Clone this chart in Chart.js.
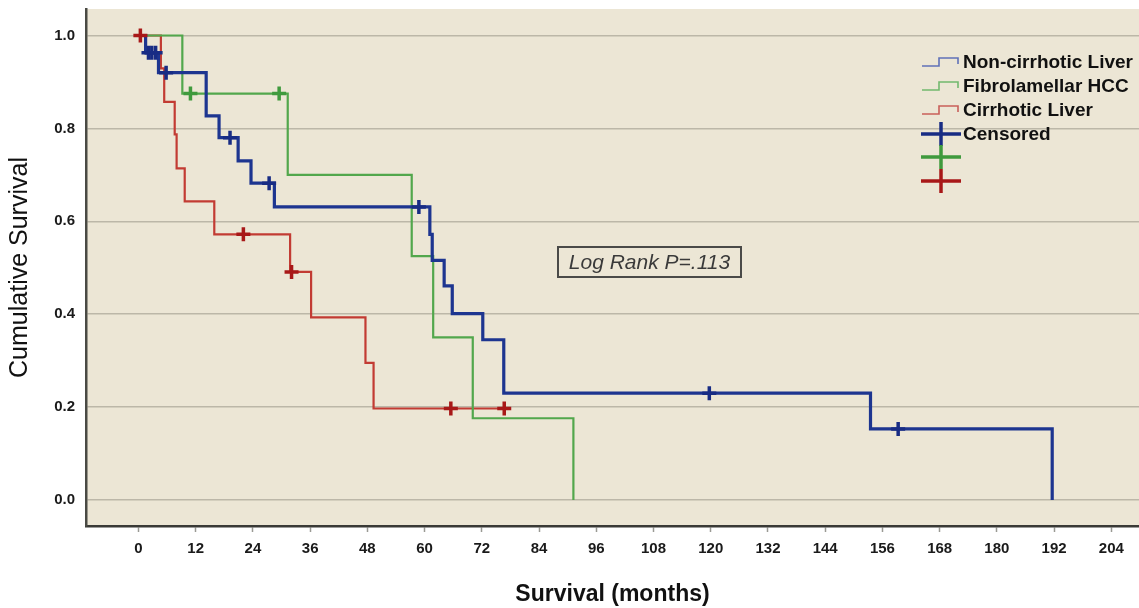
<!DOCTYPE html>
<html>
<head>
<meta charset="utf-8">
<script src="https://cdn.jsdelivr.net/npm/chart.js@4/dist/chart.umd.min.js"></script>
<style>
  body { margin: 0; background: #fff; }
  #wrap { position: relative; width: 1139px; height: 608px; }
  #legend { position: absolute; left: 0; top: 0; font-family: "Liberation Sans", Arial, sans-serif; }
  .row { position: absolute; left: 921px; height: 24px; display: flex; align-items: center; white-space: nowrap; }
  .row svg { width: 40px; flex: none; }
  .row span { margin-left: 2px; font-size: 19px; font-weight: bold; color: #111; }
  #logrank { position: absolute; left: 557px; top: 246px; width: 181px; height: 28px; border: 2px solid #4a4a48;
    font-family: "Liberation Sans", Arial, sans-serif; font-style: italic; font-size: 21px; color: #3a3a3a;
    line-height: 28px; text-align: center; }
</style>
</head>
<body>
<div id="wrap">
  <canvas id="kmChart" width="1139" height="608"></canvas>
  <div id="legend"></div>
  <div id="logrank">Log Rank P=.113</div>
</div>
<script>
'use strict';

// axis ticks
const xTicks = [0, 12, 24, 36, 48, 60, 72, 84, 96, 108, 120, 132, 144, 156, 168, 180, 192, 204];
const yTicks = [0, 0.2, 0.4, 0.6, 0.8, 1.0];

const groupNames = ['Non-cirrhotic Liver', 'Fibrolamellar HCC', 'Cirrhotic Liver'];
const censoredLabel = 'Censored';
const logRankText = 'Log Rank P=.113';

// Non-cirrhotic Liver
const nonCirrhoticTimes = [0, 1.5, 4.2, 14.2, 16.9, 20.9, 23.6, 28.5, 61.1, 61.6, 64.1, 65.8, 72.2, 76.6, 153.5, 191.6];
const nonCirrhoticSurvival = [1, 0.963, 0.920, 0.827, 0.780, 0.730, 0.682, 0.631, 0.572, 0.516, 0.461, 0.401, 0.345, 0.230, 0.153, 0];
const nonCirrhoticCensorTimes = [2.1, 2.8, 3.6, 5.8, 19.2, 27.4, 58.8, 119.7, 159.3];
const nonCirrhoticCensorSurvival = [0.963, 0.963, 0.963, 0.920, 0.780, 0.682, 0.631, 0.230, 0.153];

// Fibrolamellar HCC
const fibrolamellarTimes = [0, 9.2, 31.3, 57.3, 61.8, 70.1, 91.2];
const fibrolamellarSurvival = [1, 0.875, 0.700, 0.525, 0.350, 0.176, 0];
const fibrolamellarCensorTimes = [10.9, 29.5];
const fibrolamellarCensorSurvival = [0.875, 0.875];

// Cirrhotic Liver
const cirrhoticTimes = [0, 4.7, 5.4, 7.6, 8.0, 9.7, 15.9, 31.8, 36.2, 47.6, 49.3];
const cirrhoticSurvival = [1, 0.929, 0.857, 0.787, 0.714, 0.643, 0.572, 0.491, 0.393, 0.295, 0.197];
const cirrhoticCensorTimes = [0.4, 22.0, 32.1, 65.5, 76.7];
const cirrhoticCensorSurvival = [1, 0.572, 0.491, 0.197, 0.197];

const lineColors = ['#1d3590', '#52a74c', '#c23b33'];
const crossColors = ['#182c84', '#3f9a3d', '#a81818'];
const iconColors = ['#6072b8', '#72b96e', '#c9605a'];

function toPoints(xs, ys) {
  return xs.map(function(x, i) {
    return { x: x, y: ys[i] };
  });
}

// events and censored points together, so the curve runs on to the last censored case
function stepPoints(times, surv, cTimes, cSurv) {
  let pts = toPoints(times, surv).concat(toPoints(cTimes, cSurv));
  pts.sort(function(a, b) { return a.x - b.x; });
  return pts;
}

function stepDataset(label, pts, color, width) {
  return {
    type: 'line',
    label: label,
    data: pts,
    stepped: 'before',
    borderColor: color,
    borderWidth: width,
    pointRadius: 0,
    fill: false,
    order: 2
  };
}

function censorDataset(pts, color) {
  return {
    type: 'scatter',
    label: censoredLabel,
    data: pts,
    showLine: false,
    pointStyle: 'cross',
    pointRadius: 7,
    borderColor: color,
    backgroundColor: color,
    borderWidth: 3.5,
    order: 1
  };
}

let datasets = [
  stepDataset(groupNames[0], stepPoints(nonCirrhoticTimes, nonCirrhoticSurvival, nonCirrhoticCensorTimes, nonCirrhoticCensorSurvival), lineColors[0], 3.2),
  stepDataset(groupNames[1], stepPoints(fibrolamellarTimes, fibrolamellarSurvival, fibrolamellarCensorTimes, fibrolamellarCensorSurvival), lineColors[1], 2.2),
  stepDataset(groupNames[2], stepPoints(cirrhoticTimes, cirrhoticSurvival, cirrhoticCensorTimes, cirrhoticCensorSurvival), lineColors[2], 2.2),
  censorDataset(toPoints(nonCirrhoticCensorTimes, nonCirrhoticCensorSurvival), crossColors[0]),
  censorDataset(toPoints(fibrolamellarCensorTimes, fibrolamellarCensorSurvival), crossColors[1]),
  censorDataset(toPoints(cirrhoticCensorTimes, cirrhoticCensorSurvival), crossColors[2])
];

const plotBackground = {
  id: 'plotBackground',
  beforeDraw: function(chart) {
    let ctx = chart.ctx;
    let a = chart.chartArea;
    ctx.save();
    ctx.fillStyle = '#ece6d5';
    ctx.fillRect(a.left, a.top, a.right - a.left, a.bottom - a.top);
    ctx.restore();
  }
};

let tickFont = { family: '"Liberation Sans", Arial, sans-serif', size: 15, weight: 'bold' };

let kmChart = new Chart(document.getElementById('kmChart'), {
  data: { datasets: datasets },
  plugins: [plotBackground],
  options: {
    responsive: false,
    animation: false,
    layout: { autoPadding: false, padding: { top: 9, right: 0, bottom: 0, left: 0 } },
    plugins: {
      legend: { display: false },
      tooltip: { enabled: false }
    },
    scales: {
      x: {
        type: 'linear',
        min: -11,
        max: 209.8,
        afterBuildTicks: function(scale) {
          scale.ticks = xTicks.map(function(v) { return { value: v }; });
        },
        afterFit: function(scale) { scale.height = 82; },
        grid: { drawOnChartArea: false, drawTicks: true, tickLength: 6, tickColor: '#9a9a94', tickWidth: 1.5 },
        border: { color: '#3a3a36', width: 2.5 },
        ticks: { font: tickFont, color: '#1a1a1a', padding: 8, maxRotation: 0, autoSkip: false },
        title: {
          display: true,
          text: 'Survival (months)',
          color: '#111',
          font: { family: '"Liberation Sans", Arial, sans-serif', size: 23, weight: 'bold', lineHeight: 1 },
          padding: { top: 0, bottom: 2 }
        }
      },
      y: {
        type: 'linear',
        min: -0.056,
        max: 1.057,
        afterBuildTicks: function(scale) {
          scale.ticks = yTicks.map(function(v) { return { value: v }; });
        },
        afterFit: function(scale) {
          scale.width = 86;
          // tick labels sit well inside the range, no extra room needed above or below
          scale.paddingTop = 0;
          scale.paddingBottom = 0;
        },
        grid: { color: '#bcb7a8', lineWidth: 1.5, drawTicks: false },
        border: { color: '#4a4a44', width: 2.5 },
        ticks: {
          font: tickFont,
          color: '#1a1a1a',
          padding: 11,
          callback: function(v) { return Number(v).toFixed(1); }
        },
        title: {
          display: true,
          text: 'Cumulative Survival',
          color: '#111',
          font: { family: '"Liberation Sans", Arial, sans-serif', size: 25, weight: 'normal', lineHeight: 1 },
          padding: { top: 8, bottom: 0 }
        }
      }
    }
  }
});

// legend in the top right corner of the plot
function stepIcon(color) {
  return '<svg height="16" viewBox="0 0 40 16"><path d="M1,12 H18 V4 H37 V10" fill="none" stroke="' + color + '" stroke-width="1.6"/></svg>';
}

function crossIcon(color) {
  return '<svg height="26" viewBox="0 0 40 26"><path d="M0,13 H40 M20,1 V25" fill="none" stroke="' + color + '" stroke-width="3.5"/></svg>';
}

let legendRows = [
  { top: 50, icon: stepIcon(iconColors[0]), text: groupNames[0] },
  { top: 74, icon: stepIcon(iconColors[1]), text: groupNames[1] },
  { top: 98, icon: stepIcon(iconColors[2]), text: groupNames[2] },
  { top: 122, icon: crossIcon(crossColors[0]), text: censoredLabel },
  { top: 145, icon: crossIcon(crossColors[1]), text: '' },
  { top: 169, icon: crossIcon(crossColors[2]), text: '' }
];

let $legend = document.getElementById('legend');
for (let i = 0; i < legendRows.length; i++) {
  let row = legendRows[i];
  $legend.innerHTML += '<div class="row" style="top:' + row.top + 'px">' + row.icon + '<span>' + row.text + '</span></div>';
}
document.getElementById('logrank').textContent = logRankText;
</script>
</body>
</html>
